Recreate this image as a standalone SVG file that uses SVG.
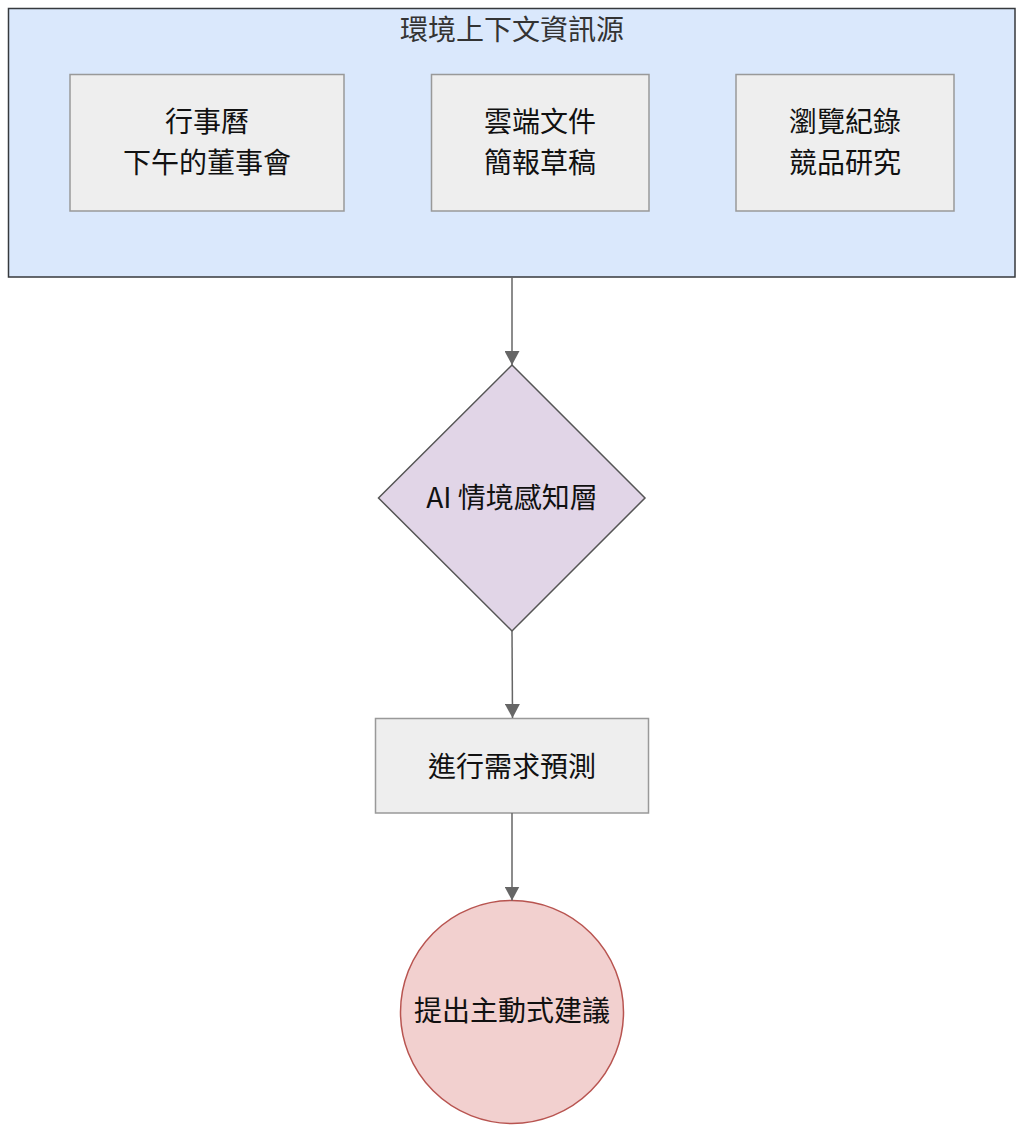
<svg xmlns="http://www.w3.org/2000/svg" width="1024" height="1134" viewBox="0 0 1024 1134">
<defs>
<style>
text{font-family:"Noto Sans CJK TC","Noto Sans CJK SC",sans-serif;font-size:28px;text-anchor:middle;dominant-baseline:central;fill:#111}
.title{fill:#333}
.box{fill:#eeeeee;stroke:#999999;stroke-width:1.5}
.edge{stroke:#666666;stroke-width:1.5;fill:none}
</style>
<marker id="arr" viewBox="0 0 14 15" refX="14" refY="7.5" markerWidth="14" markerHeight="15" markerUnits="userSpaceOnUse" orient="auto">
<path d="M0,0 L14,7.5 L0,15 Z" fill="#666666"/>
</marker>
</defs>
<rect width="1024" height="1134" fill="#ffffff"/>
<g id="container">
<rect x="8.5" y="8.5" width="1006.5" height="268.5" fill="#dae8fc" stroke="#36393d" stroke-width="1.5"/>
<text class="title" x="512" y="28">環境上下文資訊源</text>
</g>
<g id="calendar">
<rect class="box" x="70" y="74.5" width="274" height="136.5"/>
<text x="207" y="120">行事曆</text>
<text x="207" y="161">下午的董事會</text>
</g>
<g id="clouddoc">
<rect class="box" x="431.5" y="74.5" width="217.5" height="136.5"/>
<text x="540" y="120">雲端文件</text>
<text x="540" y="161">簡報草稿</text>
</g>
<g id="browsing">
<rect class="box" x="736" y="74.5" width="218" height="136.5"/>
<text x="845" y="120">瀏覽紀錄</text>
<text x="845" y="161">競品研究</text>
</g>
<g id="ai">
<polygon points="512,365 645,498 512,631 378.5,498" fill="#e1d5e7" stroke="#555555" stroke-width="1.5"/>
<text x="512" y="496">AI 情境感知層</text>
</g>
<g id="predict">
<rect class="box" x="375.5" y="718.5" width="273" height="94.5"/>
<text x="512" y="765">進行需求預測</text>
</g>
<g id="suggest">
<circle cx="512" cy="1012" r="111.5" fill="#f2d0cf" stroke="#b85450" stroke-width="1.5"/>
<text x="512" y="1009">提出主動式建議</text>
</g>
<g id="connectors">
<path class="edge" d="M512,277 L512,365" marker-end="url(#arr)"/>
<path class="edge" d="M512,631 L512.5,718" marker-end="url(#arr)"/>
<path class="edge" d="M512,813 L512,900.5" marker-end="url(#arr)"/>
</g>
</svg>
